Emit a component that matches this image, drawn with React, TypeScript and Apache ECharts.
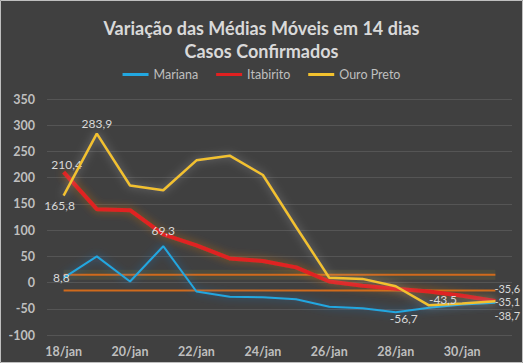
import React, { useEffect, useRef } from "react";
import * as echarts from "echarts";

const categorias = ["18/jan","19/jan","20/jan","21/jan","22/jan","23/jan","24/jan","25/jan","26/jan","27/jan","28/jan","29/jan","30/jan","31/jan"];
const mariana = [8.8, 50, 2, 69.3, -17, -27, -28, -32, -46, -49, -56.7, -48, -42, -38.7];
const itabirito = [210.4, 140, 138, 92, 71, 46, 41, 29, 2, -6, -12, -17, -25, -35.1];
const ouroPreto = [165.8, 283.9, 185, 176, 233, 242, 205, 106, 9, 7, -7, -43.5, -40, -35.6];
const limiteSuperior = [15, 15, 15, 15, 15, 15, 15, 15, 15, 15, 15, 15, 15, 15];
const limiteInferior = [-15, -15, -15, -15, -15, -15, -15, -15, -15, -15, -15, -15, -15, -15];
const yTicks = { min: -100, max: 350, interval: 50 };

const FONT = "Lato";
const LABEL_COLOR = "#d9d9d9";

function lbl(position: any, offset: number[] = [0, 0], distance = 4, fontSize = 12) {
  return {
    show: true,
    position,
    offset,
    distance,
    color: LABEL_COLOR,
    fontFamily: FONT,
    fontSize,
    lineHeight: fontSize,
    formatter: (p: any) => String(p.value).replace(".", ","),
  };
}

function withLabels(values: number[], labels: Record<number, any>) {
  return values.map((v, i) => (labels[i] ? { value: v, label: labels[i] } : v));
}

function lineSeries(name: string, color: string, width: number, glow: string, values: number[], labels: Record<number, any>, z: number) {
  return {
    name,
    type: "line",
    symbol: "circle",
    symbolSize: 0,
    showSymbol: true,
    color,
    itemStyle: { color },
    lineStyle: { color, width, shadowBlur: 8, shadowColor: glow },
    label: { show: false },
    data: withLabels(values, labels),
    z,
  };
}

export default function App() {
  const ref = useRef<HTMLDivElement>(null);
  useEffect(() => {
    const chart = echarts.init(ref.current!, undefined, { renderer: "svg" });
    chart.setOption({
      animation: false,
      backgroundColor: "#404040",
      title: {
        text: "Variação das Médias Móveis em 14 dias\nCasos Confirmados",
        left: "center",
        top: 11,
        textStyle: { color: "#d9d9d9", fontFamily: FONT, fontSize: 18, fontWeight: "bold", lineHeight: 23 },
      },
      legend: {
        top: 63,
        left: "center",
        icon: "rect",
        itemWidth: 26,
        itemHeight: 3,
        itemGap: 18,
        data: ["Mariana", "Itabirito", "Ouro Preto"],
        textStyle: { color: "#bfbfbf", fontFamily: FONT, fontSize: 12.5 },
      },
      grid: { left: 47, right: 11, top: 99, bottom: 28, containLabel: false },
      xAxis: {
        type: "category",
        data: categorias,
        boundaryGap: true,
        axisLine: { show: false },
        axisTick: { show: false },
        axisLabel: { interval: 1, color: "#bfbfbf", fontFamily: FONT, fontSize: 12.5, fontWeight: "bold", margin: 10 },
        splitLine: { show: false },
      },
      yAxis: {
        type: "value",
        min: yTicks.min,
        max: yTicks.max,
        interval: yTicks.interval,
        axisLine: { show: false },
        axisTick: { show: false },
        axisLabel: { color: "#bfbfbf", fontFamily: FONT, fontSize: 12.5, fontWeight: "bold", margin: 12 },
        splitLine: { lineStyle: { color: "#555555", width: 1 } },
      },
      series: [
        {
          name: "Brilho limite superior",
          type: "line",
          data: limiteSuperior,
          symbol: "none",
          silent: true,
          lineStyle: { color: "rgba(190,180,40,0.1)", width: 10 },
          z: 1,
        },
        {
          name: "Limite superior",
          type: "line",
          data: limiteSuperior,
          symbol: "none",
          silent: true,
          lineStyle: { color: "#d06a1c", width: 2 },
          z: 1,
        },
        {
          name: "Limite inferior",
          type: "line",
          data: limiteInferior,
          symbol: "none",
          silent: true,
          lineStyle: { color: "#d06a1c", width: 2 },
          z: 1,
        },
        lineSeries("Mariana", "#22a7e0", 2, "rgba(40,140,255,0.55)", mariana, {
          0: lbl("left", [6, 0], 0),
          3: lbl("top", [0, 0], 10),
          10: lbl("bottom", [8, 0], 0),
          13: lbl("right", [-1, 12.5], 0, 11),
        }, 3),
        lineSeries("Itabirito", "#e02020", 4, "rgba(230,120,20,0.55)", itabirito, {
          0: lbl("top", [3, 2], 4),
          13: lbl("right", [-1, 1], 0, 11),
        }, 2),
        lineSeries("Ouro Preto", "#f2c12e", 2.5, "rgba(200,200,200,0.5)", ouroPreto, {
          0: lbl("bottom", [-4, 0], 4),
          1: lbl("top", [0, 0], 4),
          11: lbl("top", [14, 4], 4),
          13: lbl("right", [-1, -12.5], 0, 11),
        }, 4),
      ],
      graphic: [
        {
          type: "rect",
          shape: { x: 0.5, y: 0.5, width: 522, height: 362 },
          style: { fill: "none", stroke: "#bfbfbf", lineWidth: 1 },
          silent: true,
        },
      ],
    });
    return () => chart.dispose();
  }, []);
  return <div ref={ref} style={{ position: "absolute", left: 0, top: 0, width: 523, height: 363 }} />;
}
